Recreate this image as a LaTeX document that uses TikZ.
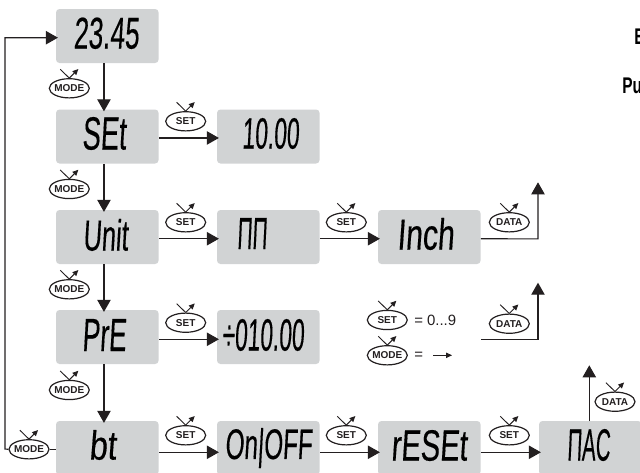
\documentclass[tikz,border=0pt]{standalone}
\usepackage{fontspec}
\usepackage{graphicx}
\usetikzlibrary{arrows.meta,shapes.geometric}
\setmainfont{Liberation Sans}
\newfontfamily\lcdfont[FakeSlant=0.1,FakeBold=0.4]{Liberation Sans}
\newfontfamily\headfont[FakeStretch=0.68]{Liberation Sans Bold}
\definecolor{lcdgray}{HTML}{D1D3D4}
\definecolor{ink}{HTML}{231F20}
\tikzset{
  x=0.75pt,y=-0.75pt,
  lcdbox/.style={fill=lcdgray,draw=none,rounded corners=2.6pt,minimum width=76.9pt,minimum height=40.5pt,inner sep=0pt},
  lcdtext/.style={inner sep=0pt,text=black},
  wire/.style={draw=ink,line width=0.85pt},
  arr/.style={wire,-{Triangle[length=9pt,width=10pt]},shorten >=-1.6pt},
  btn/.style={ellipse,draw=ink,line width=0.9pt,fill=white,minimum width=30pt,minimum height=14.4pt,inner sep=0pt,
    font=\bfseries\fontsize{7.5}{8}\selectfont,text=ink},
  small/.style={draw=ink,line width=0.7pt},
  smallarr/.style={small,-{Triangle[length=4.4pt,width=4pt]}},
  legend/.style={inner sep=0pt,text=ink,font=\fontsize{11.2}{13}\selectfont},
  head/.style={inner sep=0pt,anchor=base west,text=black,font=\headfont\fontsize{17}{20}\selectfont},
}
\newcommand\seg[6]{% name, x0, y0, x1, y1 (px), text
  \pgfmathsetlengthmacro{\segw}{(#4-#2)*0.75pt}%
  \pgfmathsetlengthmacro{\segh}{(#5-#3)*0.75pt}%
  \node[lcdtext] (#1) at ({(#2+#4)/2},{(#3+#5)/2}) {\resizebox*{\segw}{\segh}{\lcdfont #6}};}
\newcommand\btnode[4]{%
  \node[btn] (#1) at (#2,#3) {\makebox[0pt][c]{#4}};
  \draw[small] ([xshift=-6.8pt,yshift=6.6pt]#1.north) -- (#1.north);
  \draw[smallarr] (#1.north) -- ([xshift=6.8pt,yshift=6.8pt]#1.north);}
\begin{document}
\begin{tikzpicture}
\useasboundingbox (0,0) rectangle (640,472);
\begin{scope}
\clip (0,0) rectangle (640,472);
% boxes
\node[lcdbox] (clock) at (107.3,36) {};
\node[lcdbox] (setup) at (107.3,136.5) {};
\node[lcdbox] (unit) at (107.3,237) {};
\node[lcdbox] (pre) at (107.3,337) {};
\node[lcdbox] (bt) at (107.3,448) {};
\node[lcdbox] (ten) at (268.3,136.5) {};
\node[lcdbox] (mm) at (268.3,237) {};
\node[lcdbox] (inch) at (429.3,237) {};
\node[lcdbox] (preval) at (268.3,337) {};
\node[lcdbox] (onoff) at (268.3,448) {};
\node[lcdbox] (reset) at (429.3,448) {};
\node[lcdbox] (mac) at (590.3,448) {};
% display texts
\seg{tclock}{73.5}{17.5}{139}{49}{23.45}
\seg{tsetup}{82}{117}{126}{150}{SEt}
\seg{tunit}{83}{219}{128}{251}{Unit}
\seg{tpre}{82}{319}{126}{351}{PrE}
\seg{tbt}{89}{430}{116}{460}{bt}
\seg{tten}{242}{118}{299}{149}{10.00}
\seg{tmm}{237}{218}{267}{249}{ΠΠ}
\seg{tinch}{397}{218}{454}{250}{Inch}
\seg{tpreval}{222}{319}{304}{351}{÷010.00}
\seg{tonoff}{225}{428}{312}{468}{On|OFF}
\seg{treset}{391}{430}{467}{461}{rESEt}
\seg{tmac}{567}{429}{610}{461}{ΠAC}
% heading fragments cut by the edge
\node[head] (h1) at (634,44) {E};
\node[head] (h2) at (622,93) {Pu};
% buttons
\btnode{m1}{69.3}{88.3}{MODE}
\btnode{m2}{69.3}{189}{MODE}
\btnode{m3}{69.3}{289.3}{MODE}
\btnode{m4}{69.3}{390}{MODE}
\btnode{m5}{29}{449.3}{MODE}
\btnode{s1}{185.7}{121.3}{SET}
\btnode{s2}{185.7}{222.3}{SET}
\btnode{s3}{185.7}{322.7}{SET}
\btnode{s4}{185.7}{435.3}{SET}
\btnode{s5}{346.3}{222.3}{SET}
\btnode{s6}{346.3}{435.3}{SET}
\btnode{s7}{509.3}{435.3}{SET}
\btnode{d1}{509.3}{222.3}{DATA}
\btnode{d2}{509.3}{323.7}{DATA}
\btnode{d3}{615}{401.7}{DATA}
\btnode{ls}{387.3}{320}{SET}
\btnode{lm}{387.3}{355.3}{MODE}
% vertical chain
\draw[arr] ([xshift=-2.5pt]clock.south) -- ([xshift=-2.5pt]setup.north);
\draw[arr] ([xshift=-2.5pt]setup.south) -- ([xshift=-2.5pt]unit.north);
\draw[arr] ([xshift=-2.5pt]unit.south) -- ([xshift=-2.5pt]pre.north);
\draw[arr] ([xshift=-2.5pt]pre.south) -- ([xshift=-2.5pt]bt.north);
% horizontals
\draw[arr] ([yshift=-1.1pt]setup.east) -- ([yshift=-1.1pt]ten.west);
\draw[arr] ([yshift=-1.3pt]unit.east) -- ([yshift=-1.3pt]mm.west);
\draw[arr] ([yshift=-1.3pt]mm.east) -- ([yshift=-1.3pt]inch.west);
\draw[arr] ([yshift=-1.7pt]pre.east) -- ([yshift=-1.7pt]preval.west);
\draw[arr] ([yshift=-3.2pt]bt.east) -- ([yshift=-3.2pt]onoff.west);
\draw[arr] ([yshift=-3.2pt]onoff.east) -- ([yshift=-3.2pt]reset.west);
\draw[arr] ([yshift=-3.2pt]reset.east) -- ([yshift=-3.2pt]mac.west);
% exits upward
\coordinate (up1) at (538,182.3);
\coordinate (corner1) at (538,238.9);
\draw[arr,shorten >=0pt] ([yshift=-1.3pt]inch.east) -- (corner1) -- (up1);
\coordinate (start2) at (481,339.3);
\coordinate (corner2) at (538,339.3);
\coordinate (up2) at (538,282.7);
\draw[arr,shorten >=0pt] (start2) -- (corner2) -- (up2);
\coordinate (up3) at (589.3,365.3);
\coordinate (macout) at (589.3,421);
\draw[arr,shorten >=0pt] (macout) -- (up3);
% feedback
\coordinate (fbb) at (5,449);
\coordinate (fbt) at (5,37.7);
\draw[wire] (bt.west |- m5.east) -- (m5.east);
\draw[arr] (m5.west) -- (fbb) -- (fbt) -- (clock.west |- fbt);
% legend
\node[legend,anchor=west] (l1) at (414,320) {= 0...9};
\node[legend,anchor=west] (l2) at (414,356) {=};
\coordinate (la) at (433,355.3);
\coordinate (lb) at (452,355.3);
\draw[smallarr] (la) -- (lb);
\end{scope}
\end{tikzpicture}
\end{document}
